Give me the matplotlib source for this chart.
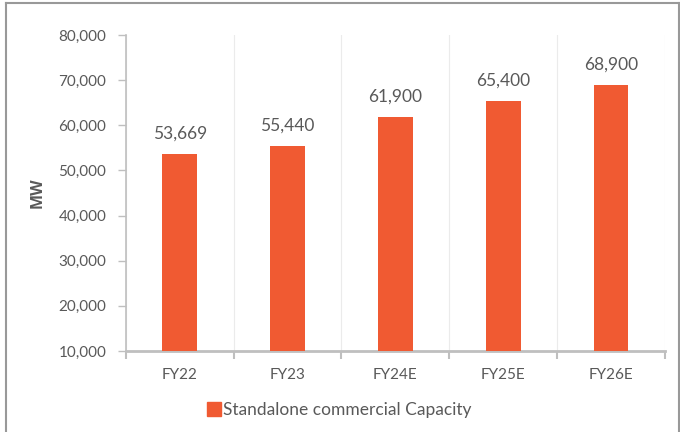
import matplotlib.pyplot as plt
from matplotlib.lines import Line2D
from matplotlib.ticker import FuncFormatter, FixedLocator

categories = ["FY22", "FY23", "FY24E", "FY25E", "FY26E"]
capacity = [53669, 55440, 61900, 65400, 68900]
series_name = "Standalone commercial Capacity"

bar_color = "#F05A32"
text_color = "#595959"
axis_color = "#BFBFBF"

plt.rcParams["font.family"] = ["Lato", "DejaVu Sans"]

fig = plt.figure(figsize=(6.8, 4.32), dpi=100)
ax = fig.add_axes([0.185, 0.1875, 0.793, 0.7315])

x = list(range(len(categories)))
ax.bar(x, capacity, width=0.32, color=bar_color, zorder=3, label=series_name)

for xi, v in zip(x, capacity):
    ax.annotate(f"{v:,}", (xi, v), xytext=(0, 9), textcoords="offset points",
                ha="center", va="bottom", fontsize=12.5, color=text_color)

ax.set_xlim(-0.5, len(categories) - 0.5)
ax.set_ylim(10000, 80000)
ax.set_yticks(range(10000, 80001, 10000))
ax.yaxis.set_major_formatter(FuncFormatter(lambda v, p: f"{int(v):,}"))

# category labels centred, ticks on boundaries
ax.set_xticks(x)
ax.set_xticklabels(categories)
ax.tick_params(axis="x", which="major", length=0, pad=12, labelsize=11, labelcolor=text_color)
ax.xaxis.set_minor_locator(FixedLocator([i - 0.5 for i in range(len(categories) + 1)]))
ax.tick_params(axis="x", which="minor", length=6, width=1.5, color=axis_color, direction="out")
ax.tick_params(axis="y", length=6, width=1, color=axis_color, labelsize=11, labelcolor=text_color, pad=8)

ax.grid(axis="x", which="minor", color="#EBEBEB", lw=0.8, zorder=0)

for s in ["top", "right"]:
    ax.spines[s].set_visible(False)
ax.spines["left"].set_color(axis_color)
ax.spines["left"].set_linewidth(1.2)
ax.spines["bottom"].set_color(axis_color)
ax.spines["bottom"].set_linewidth(2)

ax.set_ylabel("MW", fontsize=11.5, fontweight="bold", color=text_color, labelpad=9,
              family=["Open Sans", "DejaVu Sans"])

handle = Line2D([0], [0], marker="s", color="w", markerfacecolor=bar_color,
                markeredgecolor=bar_color, markersize=10)
fig.legend([handle], [series_name], loc="center", bbox_to_anchor=(0.5, 0.05),
           frameon=False, fontsize=12.5, labelcolor=text_color, handlelength=0.7,
           handletextpad=0.15)

# outer border of the chart area
fig.add_artist(Line2D([0.009, 0.009], [0, 0.993], transform=fig.transFigure, color="#999999", lw=1.5))
fig.add_artist(Line2D([0.009, 0.998], [0.993, 0.993], transform=fig.transFigure, color="#999999", lw=1.5))
fig.add_artist(Line2D([0.998, 0.998], [0, 0.993], transform=fig.transFigure, color="#999999", lw=1.5))

fig.savefig("out.png", dpi=100)
